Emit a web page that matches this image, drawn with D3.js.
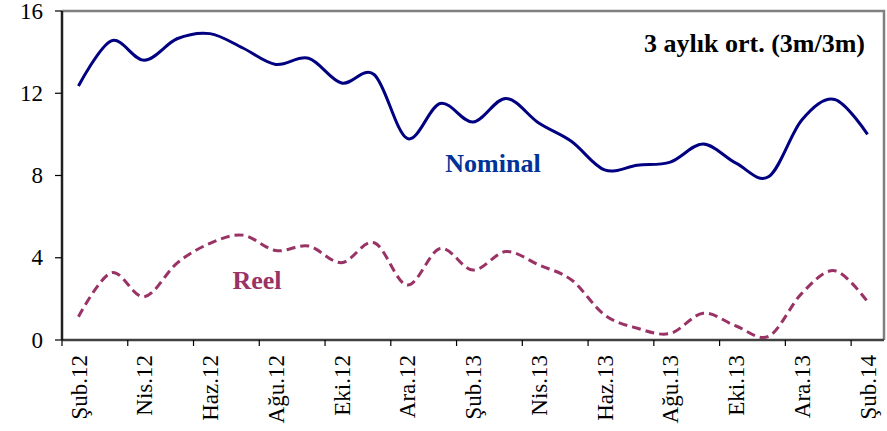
<!DOCTYPE html>
<html>
<meta charset="utf-8">
<head>
  <script src="https://d3js.org/d3.v7.min.js"></script>
</head>
<body style="margin:0; background:#fff">
<script type="text/javascript">
  "use strict"

  // months Feb 2012 .. Feb 2014
  var months = ["Şub.12","Mar.12","Nis.12","May.12","Haz.12","Tem.12","Ağu.12","Eyl.12","Eki.12","Kas.12","Ara.12","Oca.13",
                "Şub.13","Mar.13","Nis.13","May.13","Haz.13","Tem.13","Ağu.13","Eyl.13","Eki.13","Kas.13","Ara.13","Oca.14","Şub.14"];

  var nominal = [12.35, 14.55, 13.6, 14.65, 14.9, 14.2, 13.4, 13.7, 12.5, 12.9, 9.8, 11.5,
                 10.6, 11.75, 10.55, 9.65, 8.27, 8.5, 8.65, 9.53, 8.6, 7.95, 10.7, 11.7, 10.0];

  var reel = [1.13, 3.27, 2.1, 3.74, 4.7, 5.1, 4.35, 4.57, 3.76, 4.73, 2.67, 4.45,
              3.4, 4.3, 3.65, 2.92, 1.22, 0.57, 0.32, 1.3, 0.68, 0.19, 2.27, 3.37, 1.86];

  var yTicks = [0, 4, 8, 12, 16];

  var width = 887, height = 431;
  var margin = {top: 11, right: 3, bottom: 91, left: 62};
  var serif = "'Liberation Serif'";

  var svg = d3.select("body").append("svg")
      .attr("width", width)
      .attr("height", height);

  var x = d3.scaleBand()
      .domain(months)
      .range([margin.left, width - margin.right])
      .padding(0);

  var y = d3.scaleLinear()
      .domain([0, 16])
      .range([height - margin.bottom, margin.top]);

  var cx = function(d, i) { return x(months[i]) + x.bandwidth() / 2; };

  // plot frame (top / right in grey)
  svg.append("path")
      .attr("d", "M" + margin.left + "," + y(16) + "H" + (width - margin.right) + "V" + y(0))
      .attr("fill", "none")
      .attr("stroke", "#808080")
      .attr("stroke-width", 2.5);

  // x axis: ticks at category boundaries every 2 months
  var shown = months.filter(function(d, i) { return i % 2 === 0; });
  var xAxis = svg.append("g")
      .attr("transform", "translate(0," + y(0) + ")");
  xAxis.append("line")
      .attr("x1", margin.left).attr("x2", width - margin.right)
      .attr("stroke", "#404040").attr("stroke-width", 2.5);
  xAxis.selectAll(".xt").data(shown).enter().append("line")
      .attr("class", "xt")
      .attr("x1", function(d) { return x(d); })
      .attr("x2", function(d) { return x(d); })
      .attr("y1", 0).attr("y2", 6)
      .attr("stroke", "#000").attr("stroke-width", 1.2);
  xAxis.selectAll(".xl").data(shown).enter().append("text")
      .attr("class", "xl")
      .attr("transform", function(d) { return "translate(" + (x(d) + x.bandwidth() / 2) + ",15) rotate(-90)"; })
      .attr("text-anchor", "end")
      .attr("dy", "0.35em")
      .style("font-family", serif)
      .style("font-size", "23px")
      .style("fill", "#000")
      .text(function(d) { return d; });

  // y axis
  var yAxis = svg.append("g")
      .attr("transform", "translate(" + margin.left + ",0)");
  yAxis.append("line")
      .attr("y1", y(0)).attr("y2", y(16))
      .attr("stroke", "#202020").attr("stroke-width", 2.5);
  yAxis.selectAll(".yt").data(yTicks).enter().append("line")
      .attr("class", "yt")
      .attr("x1", -7).attr("x2", 0)
      .attr("y1", function(d) { return y(d); })
      .attr("y2", function(d) { return y(d); })
      .attr("stroke", "#000").attr("stroke-width", 1.2);
  yAxis.selectAll(".yl").data(yTicks).enter().append("text")
      .attr("class", "yl")
      .attr("x", -19)
      .attr("y", function(d) { return y(d); })
      .attr("dy", "0.33em")
      .attr("text-anchor", "end")
      .style("font-family", serif)
      .style("font-size", "23px")
      .style("fill", "#000")
      .text(function(d) { return d; });

  var line = d3.line()
      .x(cx)
      .y(function(d) { return y(d); })
      .curve(d3.curveCatmullRom.alpha(0));

  svg.append("path")
      .datum(nominal)
      .attr("fill", "none")
      .attr("stroke", "#000080")
      .attr("stroke-width", 3)
      .attr("d", line);

  svg.append("path")
      .datum(reel)
      .attr("fill", "none")
      .attr("stroke", "#993366")
      .attr("stroke-width", 3)
      .attr("stroke-dasharray", "9,5")
      .attr("d", line);

  // labels
  function label(txt, px, py, col) {
    svg.append("text")
        .attr("x", px).attr("y", py)
        .attr("text-anchor", px > 800 ? "end" : "middle")
        .style("fill", col)
        .style("font-family", serif)
        .style("font-size", "26px")
        .style("font-weight", "bold")
        .text(txt);
  }
  label("3 aylık ort. (3m/3m)", 865, 52, "#000");
  label("Nominal", 493, 172, "#003399");
  label("Reel", 257, 289, "#993366");
</script>
</body>
</html>
